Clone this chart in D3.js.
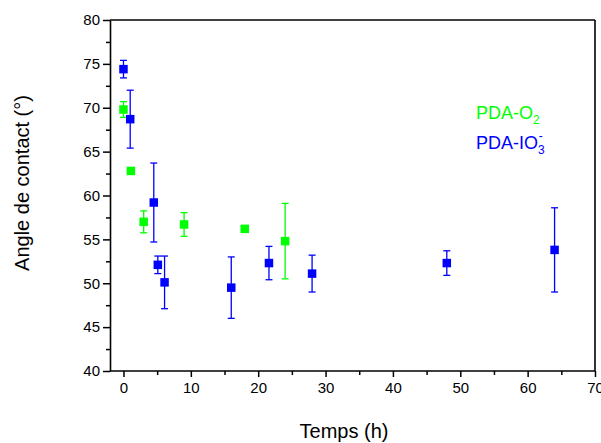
<!DOCTYPE html>
<html>
<head>
<meta charset="utf-8">
<script src="https://cdn.jsdelivr.net/npm/d3@7"></script>
<style>
  html, body { margin: 0; padding: 0; background: #fff; }
  svg { display: block; font-family: "Liberation Sans", Arial, sans-serif; }
  svg text { font-family: "Liberation Sans", Arial, sans-serif; }
</style>
</head>
<body>
<svg id="chart" width="601" height="443"></svg>
<script>
// Data
const o2Time  = [0, 1.1, 3, 9, 18, 24];
const o2Angle = [69.8, 62.8, 57.0, 56.7, 56.2, 54.8];
const o2Err   = [0.9, 0.3, 1.25, 1.35, 0.3, 4.3];

const io3Time  = [0, 1, 4.5, 5.1, 6.1, 16, 21.6, 28, 48, 64];
const io3Angle = [74.4, 68.7, 59.2, 52.1, 50.1, 49.5, 52.3, 51.1, 52.3, 53.8];
const io3Err   = [1.0, 3.3, 4.5, 1.0, 3.0, 3.5, 1.9, 2.1, 1.4, 4.8];

const xTicks = [0, 10, 20, 30, 40, 50, 60, 70];
const yTicks = [40, 45, 50, 55, 60, 65, 70, 75, 80];

const FONT = "'Liberation Sans', Arial, sans-serif";
const svg = d3.select("#chart");
const x = d3.scaleLinear().domain([-2, 70]).range([110, 595]);
const y = d3.scaleLinear().domain([40, 80]).range([371, 20]);

// Frame (top and right)
svg.append("line").attr("x1", 110).attr("x2", 595).attr("y1", 20).attr("y2", 20)
  .attr("stroke", "#000").attr("stroke-width", 1.6);
svg.append("line").attr("x1", 595).attr("x2", 595).attr("y1", 20).attr("y2", 371)
  .attr("stroke", "#000").attr("stroke-width", 1.6);

// X axis
const xAxis = svg.append("g").attr("transform", "translate(0,371)")
  .call(d3.axisBottom(x).tickValues(xTicks).tickSize(6).tickPadding(5).tickSizeOuter(0));
svg.append("g").attr("transform", "translate(0,371)")
  .call(d3.axisBottom(x).tickValues(d3.range(5, 70, 10)).tickSize(4).tickFormat("").tickSizeOuter(0))
  .select(".domain").remove();

// Y axis
svg.append("g").attr("transform", "translate(110,0)")
  .call(d3.axisLeft(y).tickValues(yTicks).tickSize(7).tickPadding(3).tickSizeOuter(0));
svg.append("g").attr("transform", "translate(110,0)")
  .call(d3.axisLeft(y).tickValues(d3.range(42.5, 80, 5)).tickSize(4).tickFormat("").tickSizeOuter(0))
  .select(".domain").remove();

svg.selectAll(".domain").attr("stroke", "#000").attr("stroke-width", 1.6);
svg.selectAll(".tick line").attr("stroke", "#000").attr("stroke-width", 1.5);
svg.selectAll("g text").attr("font-size", 15).attr("fill", "#000").attr("font-family", FONT);
xAxis.select(".domain").attr("d", `M${x(-2)},0H${x(70)}`);

// Series drawing
function drawSeries(times, vals, errs, color) {
  const g = svg.append("g");
  const data = times.map((t, i) => ({t, v: vals[i], e: errs[i]}));
  const cap = 3.5;
  data.forEach(d => {
    const cx = x(d.t);
    g.append("line").attr("x1", cx).attr("x2", cx)
      .attr("y1", y(d.v + d.e)).attr("y2", y(d.v - d.e))
      .attr("stroke", color).attr("stroke-width", 1.3);
    [d.v + d.e, d.v - d.e].forEach(v => {
      g.append("line").attr("x1", cx - cap).attr("x2", cx + cap)
        .attr("y1", y(v)).attr("y2", y(v))
        .attr("stroke", color).attr("stroke-width", 1.3);
    });
  });
  const s = 8.5;
  g.selectAll("rect").data(data).enter().append("rect")
    .attr("x", d => x(d.t) - s / 2).attr("y", d => y(d.v) - s / 2)
    .attr("width", s).attr("height", s).attr("fill", color);
}
drawSeries(o2Time, o2Angle, o2Err, "#00ff00");
drawSeries(io3Time, io3Angle, io3Err, "#0000ff");

// Axis titles
svg.append("text").attr("x", 344).attr("y", 438).attr("text-anchor", "middle")
  .attr("font-size", 20).attr("fill", "#000").attr("font-family", FONT).text("Temps (h)");
svg.append("text").attr("transform", "translate(29,183) rotate(-90)")
  .attr("text-anchor", "middle").attr("font-size", 20).attr("fill", "#000").attr("font-family", FONT)
  .text("Angle de contact (°)");

// Legend
const l1 = svg.append("text").attr("x", 476).attr("y", 119).attr("font-size", 18)
  .attr("fill", "#00ff00").attr("font-family", FONT);
l1.append("tspan").text("PDA-O");
l1.append("tspan").attr("font-size", 12).attr("dy", 5).text("2");
const l2 = svg.append("text").attr("x", 476).attr("y", 149).attr("font-size", 18)
  .attr("fill", "#0000ff").attr("font-family", FONT);
l2.append("tspan").text("PDA-IO");
l2.append("tspan").attr("font-size", 12).attr("dy", 5).text("3");
l2.append("tspan").attr("font-size", 12).attr("dy", -14).attr("dx", -6).text("-");
</script>
</body>
</html>
